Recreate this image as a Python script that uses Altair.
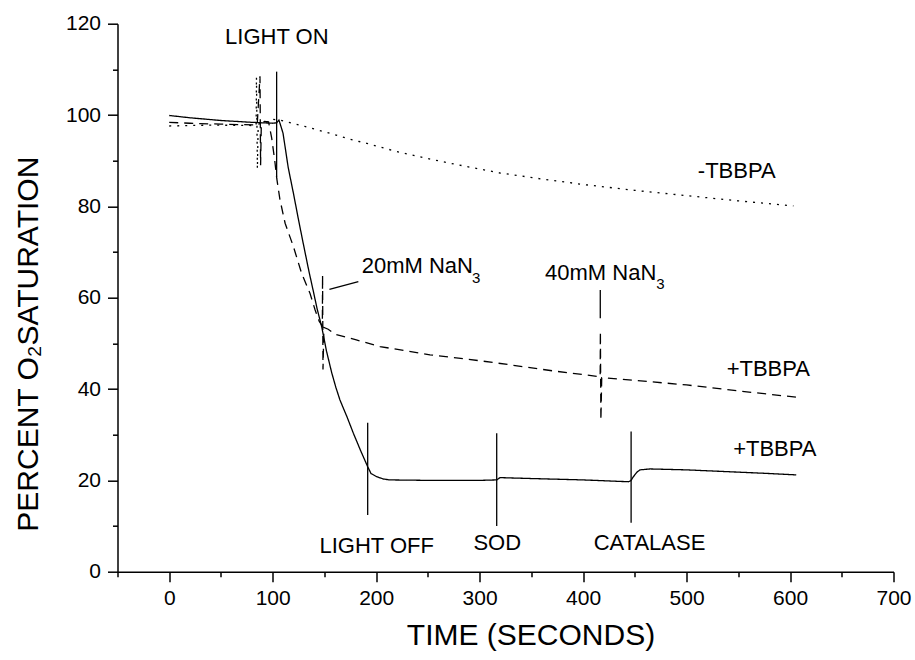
import altair as alt
import pandas as pd

# ---- data -------------------------------------------------------------
solid_t = [0, 20, 50, 80, 100, 103.8, 106, 108, 110, 115, 120, 125, 129.5, 135, 139, 143,
           147.3, 152, 157, 161, 165, 172, 178, 185, 191.8, 195, 200.5, 207, 213, 250, 300,
           316.5, 319.7, 350, 400, 443.8, 446, 448.6, 452, 455, 464.7, 500, 540, 580, 606]
solid_v = [99.9, 99.4, 98.8, 98.4, 98.2, 98.3, 98.9, 97.5, 96.0, 88.5, 82.9, 77.0, 71.9, 65.8,
           61.7, 57.5, 53.7, 48.3, 43.6, 40.4, 37.6, 33.8, 30.3, 26.5, 23.0, 21.5, 20.8, 20.3,
           20.1, 20.0, 20.0, 20.1, 20.6, 20.4, 20.1, 19.7, 19.9, 20.8, 21.8, 22.3, 22.5, 22.3,
           21.9, 21.5, 21.2]

dashed_t = [0, 20, 50, 70, 85, 87.7, 88.3, 89, 92, 96, 99, 102, 104, 107, 112, 120, 128, 136,
            141, 145, 148, 148.2, 148.6, 149.5, 153.6, 160, 180, 203.7, 252, 300, 329.5, 370,
            416.5, 416.7, 417.2, 418, 423, 465, 500, 550, 606.5]
dashed_v = [98.4, 98.2, 98.0, 97.9, 97.8, 108.5, 89.0, 98.0, 98.6, 98.5, 95.0, 90.0, 86.0, 81.5,
            76.3, 71.2, 65.3, 61.0, 57.3, 54.8, 53.8, 65.0, 44.3, 53.5, 53.1, 52.0, 50.8, 49.3,
            47.5, 46.2, 45.3, 44.0, 42.7, 52.6, 33.2, 42.5, 42.4, 41.6, 40.9, 39.6, 38.2]

dotted_t = [0, 40, 84, 84.3, 85.2, 86, 95, 99, 107, 131, 160, 171.5, 190.8, 220, 255.3, 290,
            320, 360, 400, 450, 493.7, 550, 603.3]
dotted_v = [97.6, 97.8, 97.7, 108.3, 88.2, 98.0, 98.5, 99.1, 98.9, 97.5, 95.7, 94.9, 93.8, 92.0,
            90.2, 88.6, 87.3, 86.0, 84.8, 83.5, 82.5, 81.2, 80.1]

# marker / leader lines
rule_t1 = [103.8, 191.8, 316.5, 446.4, 416.6, 154.8]
rule_t2 = [103.8, 191.8, 316.5, 446.4, 416.6, 182.8]
rule_v1 = [86.5, 12.4, 10.0, 10.7, 55.5, 61.8]
rule_v2 = [109.5, 32.6, 30.3, 30.7, 61.7, 63.5]

# annotation texts
center_labels = ["LIGHT ON", "-TBBPA", "+TBBPA", "+TBBPA", "LIGHT OFF", "SOD", "CATALASE"]
center_t = [104, 548.5, 579, 585.3, 200.5, 317, 464.2]
center_v = [117, 87.7, 44.4, 26.9, 5.6, 6.2, 6.3]

left_labels = ["20mM NaN", "40mM NaN"]
left_t = [186, 363.2]
left_v = [67.0, 65.4]

sub_labels = ["3", "3"]
sub_t = [292.6, 470.7]
sub_v = [64.4, 62.9]

x_major = [0, 100, 200, 300, 400, 500, 600, 700]
x_minor = [-50, 50, 150, 250, 350, 450, 550, 650]
y_major = [0, 20, 40, 60, 80, 100, 120]
y_minor = [10, 30, 50, 70, 90, 110]

FONT = "Liberation Sans"

# ---- tables -------------------------------------------------------------
def series(ts, vs):
    return pd.DataFrame({"t": ts, "v": vs, "i": list(range(len(ts)))})

solid_df = series(solid_t, solid_v)
dashed_df = series(dashed_t, dashed_v)
dotted_df = series(dotted_t, dotted_v)
rules_df = pd.DataFrame({"t1": rule_t1, "t2": rule_t2, "v1": rule_v1, "v2": rule_v2})
center_df = pd.DataFrame({"t": center_t, "v": center_v, "label": center_labels})
left_df = pd.DataFrame({"t": left_t, "v": left_v, "label": left_labels})
sub_df = pd.DataFrame({"t": sub_t, "v": sub_v, "label": sub_labels})

xs = alt.Scale(domain=[-50, 700], nice=False, zero=False)
ys = alt.Scale(domain=[0, 120], nice=False, zero=False)

common_axis = dict(grid=False, domainColor="black", tickColor="black", domainWidth=1.5,
                   tickWidth=1.5, labelColor="black", labelFont=FONT, titleFont=FONT,
                   titleColor="black", titleFontWeight="normal")

x_axis_major = alt.Axis(values=x_major, tickSize=10, labelFontSize=21, labelPadding=6,
                        orient="bottom", title="TIME (SECONDS)", titleFontSize=30,
                        titleX=413, titleY=64, titleAlign="center", titleBaseline="middle",
                        labelFlush=False, labelOverlap=False, **common_axis)
y_axis_major = alt.Axis(values=y_major, tickSize=10, labelFontSize=21, labelPadding=7,
                        orient="left", title="PERCENT O₂SATURATION", titleFontSize=30,
                        titleAngle=270, titleX=-89, titleY=320, titleAlign="center",
                        titleBaseline="middle", labelFlush=False, labelOverlap=False,
                        **common_axis)
x_axis_minor = alt.Axis(values=x_minor, tickSize=5, labels=False, domain=False, title="",
                        orient="bottom", grid=False, tickColor="black", tickWidth=1.5)
y_axis_minor = alt.Axis(values=y_minor, tickSize=5, labels=False, domain=False, title="",
                        orient="left", grid=False, tickColor="black", tickWidth=1.5)

def line(df, dash, axes=False):
    m = alt.Chart(df).mark_line(color="black", strokeWidth=1.3, strokeDash=dash)
    if axes:
        return m.encode(x=alt.X("t:Q", scale=xs, axis=x_axis_major),
                        y=alt.Y("v:Q", scale=ys, axis=y_axis_major),
                        order="i:Q")
    return m.encode(x=alt.X("t:Q", scale=xs, axis=None),
                    y=alt.Y("v:Q", scale=ys, axis=None),
                    order="i:Q")

solid = line(solid_df, [1, 0], axes=True)
dashed = line(dashed_df, [9, 6])
dotted = line(dotted_df, [2, 6])

rules = alt.Chart(rules_df).mark_rule(color="black", strokeWidth=1.3).encode(
    x=alt.X("t1:Q", scale=xs, axis=x_axis_minor),
    x2="t2:Q",
    y=alt.Y("v1:Q", scale=ys, axis=y_axis_minor),
    y2="v2:Q",
)

center_text = alt.Chart(center_df).mark_text(
    font=FONT, fontSize=22, color="black", align="center", baseline="middle"
).encode(x=alt.X("t:Q", scale=xs, axis=None), y=alt.Y("v:Q", scale=ys, axis=None), text="label:N")

left_text = alt.Chart(left_df).mark_text(
    font=FONT, fontSize=22, color="black", align="left", baseline="middle"
).encode(x=alt.X("t:Q", scale=xs, axis=None), y=alt.Y("v:Q", scale=ys, axis=None), text="label:N")

sub_text = alt.Chart(sub_df).mark_text(
    font=FONT, fontSize=15, color="black", align="left", baseline="middle"
).encode(x=alt.X("t:Q", scale=xs, axis=None), y=alt.Y("v:Q", scale=ys, axis=None), text="label:N")

chart = alt.layer(solid, rules, dashed, dotted, center_text, left_text, sub_text).resolve_axis(
    x="independent", y="independent"
).properties(
    width=776, height=548,
    autosize=alt.AutoSizeParams(type="none"),
    padding={"left": 117.5, "top": 23.7, "right": 21.5, "bottom": 88.3},
    background="white",
).configure_view(strokeWidth=0)

chart.save("out.html", embed_options={"renderer": "svg", "actions": False})
